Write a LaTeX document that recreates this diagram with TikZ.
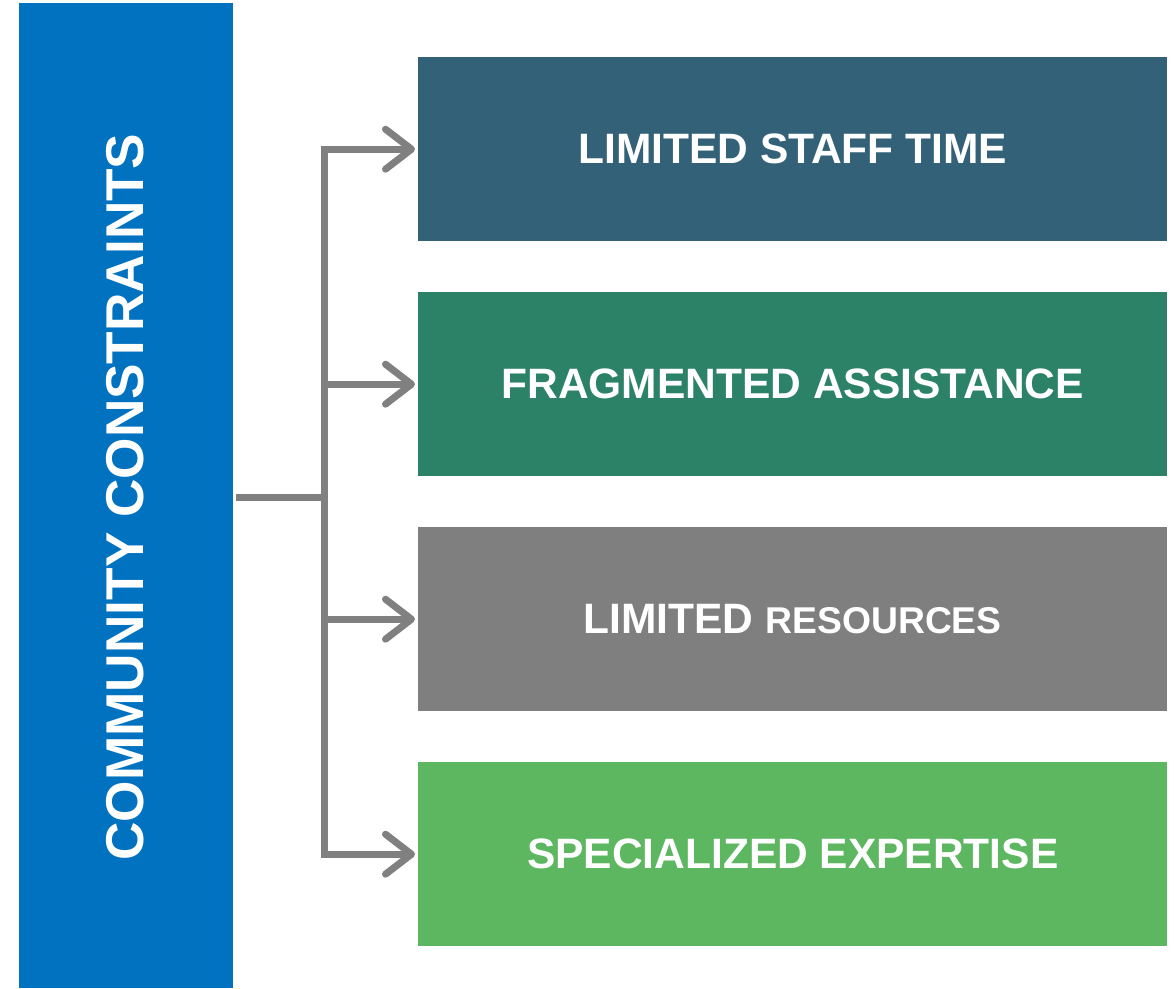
\documentclass[tikz,border=0pt]{standalone}
\usepackage{fontspec}
\setmainfont{Liberation Sans}
\usetikzlibrary{arrows.meta}
\definecolor{cblue}{RGB}{0,114,192}
\definecolor{cteal}{RGB}{51,97,120}
\definecolor{cgreen}{RGB}{44,130,102}
\definecolor{cgray}{RGB}{127,127,127}
\definecolor{clight}{RGB}{92,183,96}
\definecolor{carrow}{RGB}{128,128,128}
\tikzset{
  box/.style={draw=none, minimum width=749pt, minimum height=184pt, inner sep=0pt, anchor=north west,
    text=white, font=\fontsize{42.5}{48}\selectfont\bfseries},
  conn/.style={draw=carrow, line width=7pt, line join=miter},
  arr/.style={conn, shorten >=3pt, -{Straight Barb[length=26pt, width=40pt, line cap=round, line join=round]}}
}
\begin{document}
\begin{tikzpicture}[x=1pt,y=-1pt]
\useasboundingbox (0,0) rectangle (1174,988);
\node[fill=cblue, minimum width=214pt, minimum height=985pt, inner sep=0pt, anchor=north west] (cc) at (19,3) {};
\node[rotate=90, text=white, font=\fontsize{53.2}{58}\selectfont\bfseries] (cct) at (125,497) {COMMUNITY CONSTRAINTS};
\node[box, fill=cteal] (b1) at (418,57) {LIMITED STAFF TIME};
\node[box, fill=cgreen] (b2) at (418,292) {FRAGMENTED ASSISTANCE};
\node[box, fill=cgray] (b3) at (418,527) {LIMITED {\fontsize{37.3}{42}\selectfont RESOURCES}};
\node[box, fill=clight] (b4) at (418,762) {SPECIALIZED EXPERTISE};
\coordinate (s) at (236,497);
\coordinate (j) at (324,497);
\draw[conn] (s) -- (j);
\draw[arr] (j) |- (b1.west);
\draw[arr] (j) |- (b4.west);
\draw[arr] (j |- b2.west) -- (b2.west);
\draw[arr] (j |- b3.west) -- (b3.west);
\end{tikzpicture}
\end{document}
